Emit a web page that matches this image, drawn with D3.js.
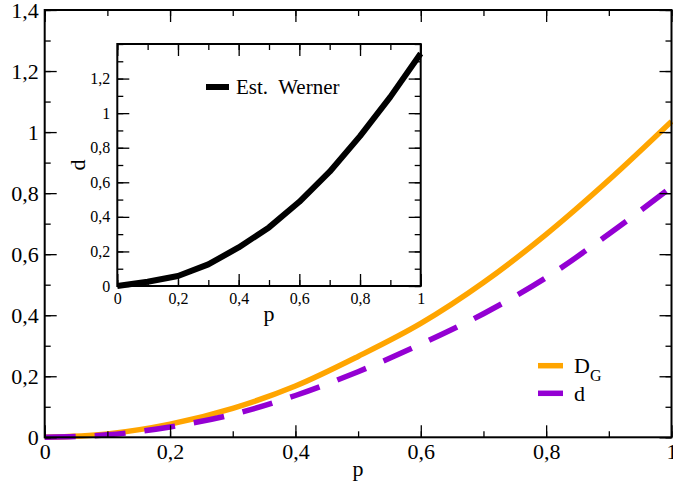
<!DOCTYPE html>
<html>
<head>
<meta charset="utf-8">
<script src="https://cdn.jsdelivr.net/npm/d3@7"></script>
<style>
  body { margin: 0; background: #fff; }
</style>
</head>
<body>
<svg id="chart" width="673" height="487"></svg>
<script>
// data
var pValues = [0, 0.1, 0.2, 0.3, 0.4, 0.5, 0.6, 0.7, 0.8, 0.9, 1];
var dgValues = [0, 0.011, 0.043, 0.095, 0.168, 0.265, 0.373, 0.507, 0.665, 0.843, 1.035];
var dValues = [0, 0.008, 0.034, 0.075, 0.137, 0.215, 0.305, 0.405, 0.523, 0.666, 0.82];
var wernerValues = [0, 0.025, 0.058, 0.125, 0.223, 0.339, 0.487, 0.661, 0.867, 1.094, 1.345];

var mainXTicks = [0, 0.2, 0.4, 0.6, 0.8, 1];
var mainYTicks = [0, 0.2, 0.4, 0.6, 0.8, 1, 1.2, 1.4];
var insetYTicks = [0, 0.2, 0.4, 0.6, 0.8, 1, 1.2];
var minorX = d3.range(0, 11).map(function(i) { return i / 10; });
var minorY = d3.range(0, 15).map(function(i) { return i / 10; });

var locale = d3.formatLocale({decimal: ",", thousands: ".", grouping: [3], currency: ["", ""]});
var fmt = locale.format(".1~f");

var svg = d3.select("#chart");

function drawFrame(g, x, y, xTicks, yTicks, fontSize, pad) {
  var w = x.range()[1] - x.range()[0],
      h = y.range()[0] - y.range()[1];

  // minor ticks on all four sides
  g.append("g").attr("transform", "translate(0," + y.range()[0] + ")")
    .call(d3.axisBottom(x).tickValues(minorX).tickSize(-6).tickSizeOuter(0).tickFormat(""));
  g.append("g").attr("transform", "translate(0," + y.range()[1] + ")")
    .call(d3.axisTop(x).tickValues(minorX).tickSize(-6).tickSizeOuter(0).tickFormat(""));
  g.append("g").attr("transform", "translate(" + x.range()[0] + ",0)")
    .call(d3.axisLeft(y).tickValues(minorY).tickSize(-6).tickSizeOuter(0).tickFormat(""));
  g.append("g").attr("transform", "translate(" + x.range()[1] + ",0)")
    .call(d3.axisRight(y).tickValues(minorY).tickSize(-6).tickSizeOuter(0).tickFormat(""));

  // major ticks
  g.append("g").attr("class", "lab").attr("transform", "translate(0," + y.range()[0] + ")")
    .call(d3.axisBottom(x).tickValues(xTicks).tickSize(-12).tickSizeOuter(0).tickPadding(pad).tickFormat(fmt));
  g.append("g").attr("transform", "translate(0," + y.range()[1] + ")")
    .call(d3.axisTop(x).tickValues(xTicks).tickSize(-12).tickSizeOuter(0).tickFormat(""));
  g.append("g").attr("class", "lab").attr("transform", "translate(" + x.range()[0] + ",0)")
    .call(d3.axisLeft(y).tickValues(yTicks).tickSize(-12).tickSizeOuter(0).tickPadding(pad).tickFormat(fmt));
  g.append("g").attr("transform", "translate(" + x.range()[1] + ",0)")
    .call(d3.axisRight(y).tickValues(yTicks).tickSize(-12).tickSizeOuter(0).tickFormat(""));

  g.selectAll(".domain").remove();
  g.selectAll(".lab text").attr("font-size", fontSize);
  g.selectAll(".tick line").attr("stroke", "#000").attr("stroke-width", 1.3);

  g.append("rect")
    .attr("x", x.range()[0]).attr("y", y.range()[1])
    .attr("width", w).attr("height", h)
    .attr("fill", "none").attr("stroke", "#000").attr("stroke-width", 2);
}

// main plot
var x = d3.scaleLinear().domain([0, 1]).range([44.7, 671.5]);
var y = d3.scaleLinear().domain([0, 1.4]).range([437.3, 10]);

var mainLine = function(vals) {
  return d3.line()
    .x(function(d, i) { return x(pValues[i]); })
    .y(function(d) { return y(d); })
    .curve(d3.curveMonotoneX)(vals);
};

var mainG = svg.append("g");

mainG.append("path")
  .attr("d", mainLine(dgValues))
  .attr("fill", "none").attr("stroke", "#FFA500").attr("stroke-width", 5.5);

mainG.append("path")
  .attr("d", mainLine(dValues))
  .attr("fill", "none").attr("stroke", "#9400D3").attr("stroke-width", 5.5)
  .attr("stroke-dasharray", "31,19");

drawFrame(mainG, x, y, mainXTicks, mainYTicks, 22, 6);

mainG.append("text")
  .attr("x", x(0.5)).attr("y", 476)
  .attr("text-anchor", "middle").attr("font-size", 22)
  .text("p");

// legend
var legend = mainG.append("g");
legend.append("line")
  .attr("x1", 538).attr("x2", 563).attr("y1", 365.7).attr("y2", 365.7)
  .attr("stroke", "#FFA500").attr("stroke-width", 5.5);
legend.append("line")
  .attr("x1", 538).attr("x2", 563).attr("y1", 393.3).attr("y2", 393.3)
  .attr("stroke", "#9400D3").attr("stroke-width", 5.5);
var dg = legend.append("text").attr("x", 574).attr("y", 373).attr("font-size", 22);
dg.append("tspan").text("D");
dg.append("tspan").attr("dy", 8).attr("font-size", 16).text("G");
legend.append("text").attr("x", 574).attr("y", 401).attr("font-size", 22).text("d");

// inset
var ix = d3.scaleLinear().domain([0, 1]).range([117.3, 420.7]);
var iy = d3.scaleLinear().domain([0, 1.4]).range([286, 44]);

var insetG = svg.append("g");
insetG.append("rect")
  .attr("x", 117.3).attr("y", 44).attr("width", 420.7 - 117.3).attr("height", 286 - 44)
  .attr("fill", "#fff");

insetG.append("path")
  .attr("d", d3.line()
    .x(function(d, i) { return ix(pValues[i]); })
    .y(function(d) { return iy(d); })(wernerValues))
  .attr("fill", "none").attr("stroke", "#000").attr("stroke-width", 6)
  .attr("stroke-linejoin", "round");

drawFrame(insetG, ix, iy, mainXTicks, insetYTicks, 16, 7);

insetG.append("text")
  .attr("x", ix(0.5)).attr("y", 321)
  .attr("text-anchor", "middle").attr("font-size", 22)
  .text("p");
insetG.append("text")
  .attr("transform", "translate(85," + iy(0.7) + ") rotate(-90)")
  .attr("text-anchor", "middle").attr("font-size", 22)
  .text("d");

insetG.append("line")
  .attr("x1", 206).attr("x2", 229).attr("y1", 87).attr("y2", 87)
  .attr("stroke", "#000").attr("stroke-width", 6);
insetG.append("text")
  .attr("x", 236).attr("y", 94).attr("font-size", 21)
  .attr("xml:space", "preserve")
  .text("Est.  Werner");

// every text in the serif face
svg.selectAll("text").attr("font-family", "Liberation Serif").attr("fill", "#000");
</script>
</body>
</html>
